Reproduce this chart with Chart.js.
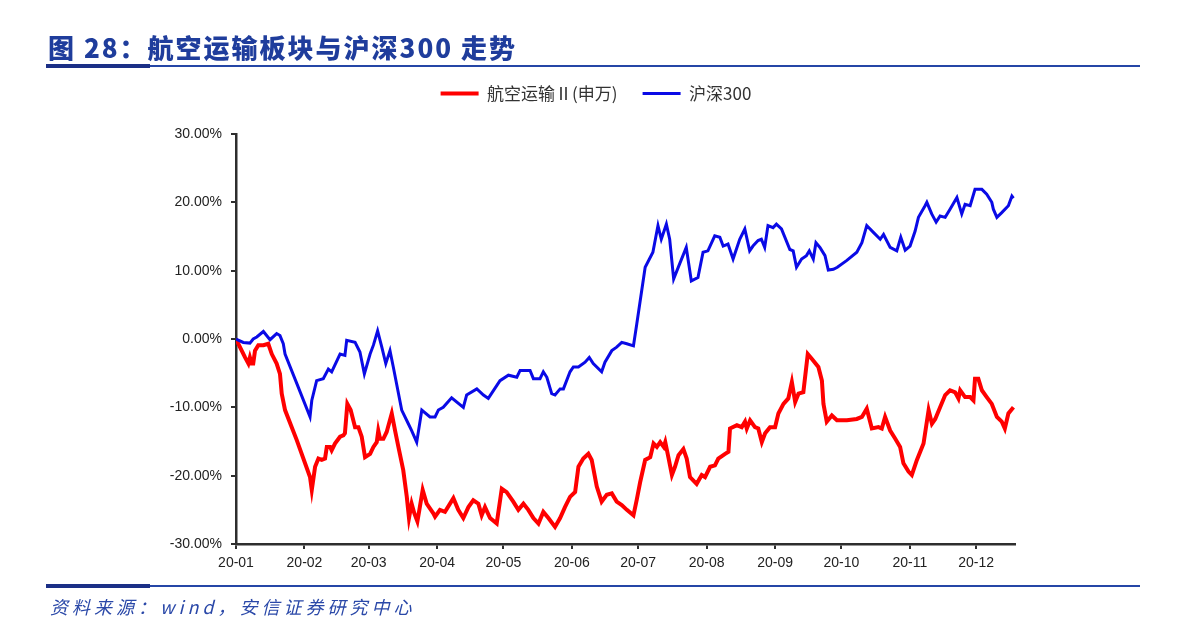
<!DOCTYPE html>
<html><head><meta charset="utf-8">
<script src="https://cdn.jsdelivr.net/npm/chart.js@4.4.1/dist/chart.umd.min.js"></script>
<style>
html,body{margin:0;padding:0;background:#fff;}
#wrap{position:relative;width:1182px;height:632px;overflow:hidden;background:#fff;}
#c{position:absolute;left:0;top:0;}
.title{position:absolute;left:48px;top:34px;font-family:"Noto Sans CJK SC";font-weight:900;font-size:26px;color:#1f3d9c;letter-spacing:2px;white-space:nowrap;line-height:1;}
.foot{position:absolute;left:50px;top:597px;font-family:"Noto Sans CJK SC";font-style:italic;font-size:18px;color:#2a48a8;letter-spacing:4px;white-space:nowrap;line-height:1;}
.rk{position:absolute;left:46px;width:104px;height:4px;background:#1b2f86;}
.rn{position:absolute;left:150px;width:990px;height:2px;background:#2546a6;}
</style></head>
<body><div id="wrap">
<canvas id="c" width="1182" height="632"></canvas>
<div class="title">图 28：航空运输板块与沪深300 走势</div>
<div class="rk" style="top:64px"></div><div class="rn" style="top:65px"></div>
<div class="rk" style="top:584px"></div><div class="rn" style="top:585px"></div>
<div class="foot">资料来源：wind，安信证券研究中心</div>
</div>
<script>
// x values are calendar days counted from 2020-01-01
const monthDays = [0,31,60,91,121,152,182,213,244,274,305,335];
const monthLabels = ['20-01','20-02','20-03','20-04','20-05','20-06','20-07','20-08','20-09','20-10','20-11','20-12'];
const yTicks = [-30,-20,-10,0,10,20,30];

const seriesNames = ['航空运输Ⅱ(申万)','沪深300'];

const airDays = [0,1.8,4.1,5.6,6.3,7.1,7.8,8.6,10.1,12.4,14.6,16.2,18.4,19.9,20.7,22.2,27.5,33.5,34.3,35.8,37.3,38.8,40.3,41.1,42.6,43.3,44.8,47.1,48.6,49.3,50.4,51.9,53.9,55.4,56.9,58.4,60.7,62.2,63.7,64.4,65.2,66.7,68.2,70.5,72.0,73.5,75.7,77.3,78.3,79.5,80.7,82.1,83.0,84.5,86.3,89.3,90.1,92.3,94.6,98.4,100.6,102.9,105.2,107.4,109.7,111.2,112.7,115.0,118.0,120.3,122.5,125.5,127.8,130.1,132.3,134.6,136.9,139.1,141.4,144.4,146.7,148.9,151.2,153.5,155.0,157.2,159.5,161.0,163.3,165.5,167.8,170.1,172.3,174.6,176.9,179.9,181.4,182.9,185.2,187.5,189.0,190.5,192.0,193.6,194.3,195.7,197.3,198.7,200.3,202.5,204.0,205.5,208.5,210.8,212.3,214.6,216.8,218.3,221.4,222.9,223.6,226.7,228.9,230.4,231.2,232.7,234.9,236.4,238.0,239.5,241.7,244.0,245.5,247.8,250.0,251.6,253.1,254.6,256.8,258.8,260.6,263.6,265.2,265.9,267.4,269.7,272.0,276.5,281.0,283.3,285.5,287.8,290.8,292.3,293.8,296.1,298.4,300.6,302.1,304.4,305.9,308.2,311.2,313.5,315.0,316.5,318.7,321.0,323.2,325.5,327.0,327.8,330.0,332.3,333.8,334.5,336.0,337.6,339.8,342.1,344.4,346.6,348.0,349.6,351.9];
const airVals = [0,-1.2,-2.7,-3.6,-2.7,-3.6,-3.6,-1.7,-0.9,-0.9,-0.7,-2.2,-3.6,-5.1,-8.0,-10.4,-14.8,-20.2,-22.1,-18.7,-17.5,-17.7,-17.5,-15.8,-15.8,-16.3,-15.3,-14.3,-14.1,-13.8,-9.5,-10.4,-12.9,-12.9,-14.3,-17.3,-16.8,-15.8,-15.1,-13.4,-14.6,-14.6,-13.6,-10.9,-13.4,-15.8,-19.2,-23.1,-26.2,-24.1,-25.5,-26.7,-25.0,-22.1,-24.1,-25.5,-26.0,-25.0,-25.3,-23.3,-25.0,-26.2,-24.6,-23.6,-24.1,-25.8,-24.6,-26.2,-27.0,-21.9,-22.4,-23.8,-25.0,-24.1,-25.0,-26.2,-27.0,-25.3,-26.2,-27.5,-26.2,-24.6,-23.1,-22.4,-18.7,-17.5,-16.8,-17.7,-21.6,-23.8,-22.8,-22.6,-23.8,-24.3,-25.0,-25.8,-23.5,-21.0,-17.7,-17.3,-15.3,-15.8,-15.1,-15.8,-15.1,-17.3,-19.9,-18.7,-17.0,-16.1,-17.5,-20.2,-21.2,-19.9,-20.2,-18.7,-18.5,-17.5,-16.8,-16.5,-13.1,-12.6,-12.9,-12.1,-13.1,-11.9,-12.9,-13.1,-15.1,-13.8,-12.9,-12.9,-10.9,-9.5,-8.7,-6.3,-9.2,-8.0,-7.8,-2.2,-2.9,-4.1,-6.1,-9.5,-12.1,-11.2,-11.9,-11.9,-11.7,-11.4,-10.2,-13.1,-12.9,-13.1,-11.4,-13.4,-14.6,-15.8,-18.2,-19.4,-19.9,-17.7,-15.3,-10.4,-12.4,-11.7,-10.0,-8.2,-7.5,-7.8,-8.7,-7.5,-8.5,-8.5,-9.0,-5.8,-5.8,-7.5,-8.5,-9.5,-11.4,-12.1,-13.1,-10.9,-10.0];

const hsDays = [0,3.3,6.3,7.8,9.4,12.4,15.4,18.4,19.9,21.4,22.2,27.5,33.5,34.3,36.5,39.5,41.8,43.3,47.1,49.3,50.1,53.9,56.1,58.1,60.7,62.2,64.1,66.0,67.8,69.7,71.2,75.0,78.0,79.5,81.8,84.1,87.8,90.1,91.6,93.8,97.6,102.9,104.4,109.0,112.0,114.2,119.5,123.3,127.1,128.6,133.1,134.6,137.6,139.1,140.7,142.9,144.4,146.7,148.2,151.2,152.7,155.0,158.0,159.9,161.7,165.5,167.0,170.1,172.3,174.6,176.9,179.9,181.4,185.2,188.7,191.0,192.5,194.8,196.3,198.1,200.8,203.8,206.1,209.1,211.4,213.6,216.7,219.0,220.5,222.7,225.0,228.0,230.3,232.5,234.0,236.3,237.8,239.3,240.8,243.1,244.6,246.9,250.7,252.2,253.7,256.0,258.2,259.5,261.3,262.5,264.3,266.6,268.1,270.4,272.2,276.5,281.0,283.3,285.5,288.5,291.6,293.1,296.1,299.1,300.9,302.9,305.1,307.4,308.9,311.9,312.7,314.9,316.9,318.7,321.0,323.2,326.3,328.5,330.0,332.3,334.5,337.6,339.8,342.1,342.8,344.4,346.6,349.6,351.2,351.9];
const hsVals = [0,-0.5,-0.6,0,0.3,1.1,-0.1,0.8,0.5,-0.7,-2.2,-6.5,-11.4,-9.0,-6.1,-5.8,-4.4,-4.8,-2.2,-2.4,-0.2,-0.5,-1.9,-5.1,-2.2,-0.9,1.2,-1.2,-3.6,-1.7,-4.1,-10.4,-12.4,-13.4,-15.1,-10.4,-11.4,-11.4,-10.4,-10.0,-8.6,-10.0,-8.2,-7.3,-8.2,-8.7,-6.1,-5.3,-5.6,-4.6,-4.6,-5.8,-5.8,-4.8,-5.6,-8.0,-8.2,-7.3,-7.3,-4.8,-4.1,-4.1,-3.4,-2.7,-3.6,-4.8,-3.4,-1.7,-1.2,-0.5,-0.7,-1.0,2.2,10.5,12.7,16.6,14.6,16.8,14.6,8.8,11.0,13.4,8.5,9.0,12.7,12.9,15.1,14.9,13.6,13.9,11.7,14.6,16.1,12.9,13.6,14.4,14.6,13.4,16.6,16.3,16.8,16.1,13.1,12.9,10.5,11.7,12.2,12.9,11.7,14.1,13.4,12.2,10.1,10.2,10.5,11.5,12.7,14.1,16.6,15.6,14.6,15.3,13.4,12.9,14.9,13.0,13.6,15.8,17.8,19.5,20.0,18.3,17.1,18.0,17.8,19.0,20.7,18.3,19.7,19.5,21.9,21.9,21.2,20.0,19.0,17.8,18.5,19.5,20.9,20.6];

const toPts = (xs, ys) => xs.map((x, i) => ({x: x, y: ys[i]}));

const axisColor = '#2e2e2e';
const tickFont = {family: '"Liberation Sans", Arial, sans-serif', size: 14};

new Chart(document.getElementById('c'), {
  type: 'line',
  data: {
    datasets: [
      {label: seriesNames[0], data: toPts(airDays, airVals), borderColor: '#ff0000', backgroundColor: '#ff0000', borderWidth: 4, pointRadius: 0, pointStyle: 'line', tension: 0, order: 2},
      {label: seriesNames[1], data: toPts(hsDays, hsVals), borderColor: '#0a0ae6', backgroundColor: '#0a0ae6', borderWidth: 3, pointRadius: 0, pointStyle: 'line', tension: 0, order: 1}
    ]
  },
  options: {
    responsive: false,
    animation: false,
    devicePixelRatio: 1,
    layout: {padding: {left: 10, right: 0, top: 60, bottom: 48}},
    plugins: {
      legend: {
        display: true, position: 'top',
        labels: {usePointStyle: true, pointStyleWidth: 38, boxHeight: 6, padding: 25, color: '#333',
          font: {family: '"Noto Sans CJK SC", sans-serif', size: 17},
          sort: (a, b) => a.datasetIndex - b.datasetIndex}
      },
      tooltip: {enabled: false}
    },
    scales: {
      x: {
        type: 'linear', min: 0, max: 352.6,
        afterBuildTicks: s => { s.ticks = monthDays.map(v => ({value: v})); },
        afterFit: s => { s.height = 40; },
        ticks: {autoSkip: false, maxRotation: 0, padding: 6, color: '#222', font: tickFont,
          callback: (v) => { const i = monthDays.indexOf(v); return i >= 0 ? monthLabels[i] : ''; }},
        grid: {display: true, drawOnChartArea: false, drawTicks: true, tickLength: 5, color: axisColor, lineWidth: 2},
        border: {display: true, color: axisColor, width: 2.5}
      },
      xTop: {
        type: 'linear', position: 'top', min: 0, max: 1,
        afterFit: s => { s.height = 22; },
        ticks: {display: false}, grid: {display: false}, border: {display: false}
      },
      y: {
        type: 'linear', min: -30, max: 30,
        afterBuildTicks: s => { s.ticks = yTicks.map(v => ({value: v})); },
        afterFit: s => { s.width = 226; },
        ticks: {padding: 9, color: '#222', font: tickFont, callback: v => v.toFixed(2) + '%'},
        grid: {display: true, drawOnChartArea: false, drawTicks: true, tickLength: 5, color: axisColor, lineWidth: 2},
        border: {display: true, color: axisColor, width: 2.5}
      },
      yRight: {
        type: 'linear', position: 'right', min: 0, max: 1,
        afterFit: s => { s.width = 167; },
        ticks: {display: false}, grid: {display: false}, border: {display: false}
      }
    }
  }
});
</script>
</body></html>
